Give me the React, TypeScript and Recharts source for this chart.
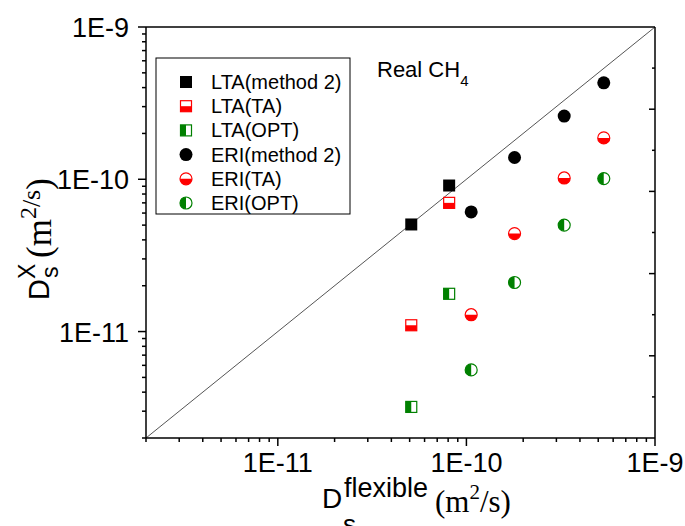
import React from 'react';
import { ScatterChart, Scatter, XAxis, YAxis, ReferenceLine } from 'recharts';

// flexible-framework diffusivities (x) for each zeolite
const ltaFlexible = [5.1e-11, 8.1e-11];
const eriFlexible = [1.06e-10, 1.8e-10, 3.3e-10, 5.35e-10];

// other estimates (y)
const ltaMethod2 = [5.05e-11, 9.1e-11];
const ltaTA = [1.1e-11, 7.0e-11];
const ltaOPT = [3.2e-12, 1.77e-11];
const eriMethod2 = [6.1e-11, 1.39e-10, 2.6e-10, 4.3e-10];
const eriTA = [1.29e-11, 4.4e-11, 1.02e-10, 1.87e-10];
const eriOPT = [5.6e-12, 2.1e-11, 5.0e-11, 1.01e-10];

const logDomain: [number, number] = [2e-12, 1e-9];
const logTicks = [
  2e-12, 3e-12, 4e-12, 5e-12, 6e-12, 7e-12, 8e-12, 9e-12,
  1e-11, 2e-11, 3e-11, 4e-11, 5e-11, 6e-11, 7e-11, 8e-11, 9e-11,
  1e-10, 2e-10, 3e-10, 4e-10, 5e-10, 6e-10, 7e-10, 8e-10, 9e-10, 1e-9,
];
// the top/right frame axes are linear in the original plot
const topTicks = [1e-10, 2e-10, 3e-10, 4e-10, 5e-10, 6e-10, 7e-10, 8e-10, 9e-10];
const rightTicks = [0.1, 0.2, 0.3, 0.4, 0.5, 0.6, 0.7, 0.8, 0.9];

const SANS = '"Liberation Sans", Arial, sans-serif';
const SERIF = '"Liberation Serif", "Times New Roman", serif';
const RED = '#ff0000';
const GREEN = '#008000';

const pairs = (xs: number[], ys: number[]) => xs.map((x, i) => ({ x, y: ys[i] }));

const isMajor = (v: number) => Math.abs(Math.log10(v) - Math.round(Math.log10(v))) < 1e-6;
const expLabel = (v: number) => `1E${Math.round(Math.log10(v))}`;

function BottomTick(props: any) {
  const { x, payload } = props;
  const y = 438;
  const major = isMajor(payload.value);
  return (
    <g>
      <line x1={x} y1={y} x2={x} y2={y + (major ? 8 : 4)} stroke="#000" strokeWidth={1.5} />
      {major && (
        <text x={x} y={y + 34} textAnchor="middle" fontSize={27} fontFamily={SANS} fill="#000">
          {expLabel(payload.value)}
        </text>
      )}
    </g>
  );
}

function LeftTick(props: any) {
  const { y, payload } = props;
  const x = 146;
  const major = isMajor(payload.value);
  return (
    <g>
      <line x1={x} y1={y} x2={x - (major ? 8 : 4)} y2={y} stroke="#000" strokeWidth={1.5} />
      {major && (
        <text x={x - 17} y={y + 10} textAnchor="end" fontSize={27} fontFamily={SANS} fill="#000">
          {expLabel(payload.value)}
        </text>
      )}
    </g>
  );
}

function TopTick(props: any) {
  const { x, index } = props;
  const y = 27;
  return <line x1={x} y1={y} x2={x} y2={y + (index % 2 === 1 ? 6 : 4)} stroke="#000" strokeWidth={1.5} />;
}

function RightTick(props: any) {
  const { y, index } = props;
  const x = 655;
  return <line x1={x} y1={y} x2={x - (index % 2 === 1 ? 6 : 3)} y2={y} stroke="#000" strokeWidth={1.5} />;
}

// markers
const filledSquare = (cx: number, cy: number) => (
  <rect x={cx - 6} y={cy - 6} width={12} height={12} fill="#000" />
);
const halfSquareBottom = (cx: number, cy: number) => (
  <g>
    <rect x={cx - 5.5} y={cy - 5.5} width={11} height={11} fill="#fff" stroke={RED} strokeWidth={1.2} />
    <rect x={cx - 5.5} y={cy} width={11} height={5.5} fill={RED} />
  </g>
);
const halfSquareLeft = (cx: number, cy: number) => (
  <g>
    <rect x={cx - 5.5} y={cy - 5.5} width={11} height={11} fill="#fff" stroke={GREEN} strokeWidth={1.2} />
    <rect x={cx - 5.5} y={cy - 5.5} width={5.5} height={11} fill={GREEN} />
  </g>
);
const filledCircle = (cx: number, cy: number) => <circle cx={cx} cy={cy} r={6.5} fill="#000" />;
const halfCircleBottom = (cx: number, cy: number) => (
  <g>
    <circle cx={cx} cy={cy} r={6} fill="#fff" stroke={RED} strokeWidth={1.2} />
    <path d={`M${cx - 6},${cy} A6,6 0 0 0 ${cx + 6},${cy} Z`} fill={RED} />
  </g>
);
const halfCircleLeft = (cx: number, cy: number) => (
  <g>
    <circle cx={cx} cy={cy} r={6} fill="#fff" stroke={GREEN} strokeWidth={1.2} />
    <path d={`M${cx},${cy - 6} A6,6 0 0 0 ${cx},${cy + 6} Z`} fill={GREEN} />
  </g>
);

const series = [
  { name: 'LTA(method 2)', data: pairs(ltaFlexible, ltaMethod2), marker: filledSquare },
  { name: 'LTA(TA)', data: pairs(ltaFlexible, ltaTA), marker: halfSquareBottom },
  { name: 'LTA(OPT)', data: pairs(ltaFlexible, ltaOPT), marker: halfSquareLeft },
  { name: 'ERI(method 2)', data: pairs(eriFlexible, eriMethod2), marker: filledCircle },
  { name: 'ERI(TA)', data: pairs(eriFlexible, eriTA), marker: halfCircleBottom },
  { name: 'ERI(OPT)', data: pairs(eriFlexible, eriOPT), marker: halfCircleLeft },
];

export default function App() {
  const W = 685;
  const H = 526;
  return (
    <div style={{ position: 'absolute', left: 0, top: 0, width: W, height: H, background: '#fff' }}>
      <ScatterChart width={W} height={H} margin={{ top: 26, right: 29, bottom: 87, left: 145 }}>
        <XAxis
          xAxisId="b"
          type="number"
          dataKey="x"
          scale="log"
          domain={logDomain}
          allowDataOverflow
          ticks={logTicks}
          interval={0}
          height={1}
          tickSize={0}
          tickMargin={0}
          tickLine={false}
          axisLine={{ stroke: '#000', strokeWidth: 1.5 }}
          tick={<BottomTick />}
        />
        <XAxis
          xAxisId="t"
          orientation="top"
          type="number"
          domain={[0, 1e-9]}
          allowDataOverflow
          ticks={topTicks}
          interval={0}
          height={1}
          tickSize={0}
          tickMargin={0}
          tickLine={false}
          axisLine={{ stroke: '#000', strokeWidth: 1.5 }}
          tick={<TopTick />}
        />
        <YAxis
          yAxisId="l"
          type="number"
          dataKey="y"
          scale="log"
          domain={logDomain}
          allowDataOverflow
          ticks={logTicks}
          interval={0}
          width={1}
          tickSize={0}
          tickMargin={0}
          tickLine={false}
          axisLine={{ stroke: '#000', strokeWidth: 1.5 }}
          tick={<LeftTick />}
        />
        <YAxis
          yAxisId="r"
          orientation="right"
          type="number"
          domain={[0, 1]}
          allowDataOverflow
          ticks={rightTicks}
          interval={0}
          width={1}
          tickSize={0}
          tickMargin={0}
          tickLine={false}
          axisLine={{ stroke: '#000', strokeWidth: 1.5 }}
          tick={<RightTick />}
        />
        <ReferenceLine
          xAxisId="b"
          yAxisId="l"
          segment={[
            { x: logDomain[0], y: logDomain[0] },
            { x: logDomain[1], y: logDomain[1] },
          ]}
          stroke="#555"
          strokeWidth={1}
          ifOverflow="visible"
        />
        {series.map((s) => (
          <Scatter
            key={s.name}
            name={s.name}
            xAxisId="b"
            yAxisId="l"
            data={s.data}
            isAnimationActive={false}
            shape={(p: any) => s.marker(p.cx, p.cy)}
          />
        ))}
      </ScatterChart>

      <svg
        width={W}
        height={H}
        style={{ position: 'absolute', left: 0, top: 0, pointerEvents: 'none' }}
      >
        {/* legend */}
        <rect x={156} y={58} width={194} height={156} fill="#fff" stroke="#000" strokeWidth={1} />
        {series.map((s, i) => {
          const cy = 82 + i * 24.2;
          return (
            <g key={s.name}>
              {s.marker(186, cy)}
              <text x={211} y={cy + 7} fontSize={20} fontFamily={SANS} fill="#000">
                {s.name}
              </text>
            </g>
          );
        })}

        <text x={377} y={77} fontSize={22} fontFamily={SANS} fill="#000">
          Real CH<tspan fontSize={15} dy={9}>4</tspan>
        </text>

        {/* x title */}
        <text x={322} y={508} fontSize={28} fontFamily={SANS} fill="#000">D</text>
        <text x={344} y={497} fontSize={27} fontFamily={SANS} fill="#000">flexible</text>
        <text x={343} y={533} fontSize={26} fontFamily={SANS} fill="#000">s</text>
        <text x={435} y={512} fontSize={31} fontFamily={SERIF} fill="#000">
          (m<tspan fontSize={21} dy={-13}>2</tspan><tspan dy={13}>/s)</tspan>
        </text>

        {/* y title */}
        <g transform="translate(49,300) rotate(-90)">
          <text x={0} y={0} fontSize={29} fontFamily={SANS} fill="#000">D</text>
          <text x={21} y={-14} fontSize={23} fontFamily={SANS} fill="#000">X</text>
          <text x={22} y={9} fontSize={23} fontFamily={SANS} fill="#000">s</text>
          <text x={42} y={2} fontSize={35} fontFamily={SERIF} fill="#000">
            (m<tspan fontSize={24} dy={-15}>2</tspan><tspan fontSize={26} dy={4}>/s</tspan><tspan dy={11}>)</tspan>
          </text>
        </g>
      </svg>
    </div>
  );
}
